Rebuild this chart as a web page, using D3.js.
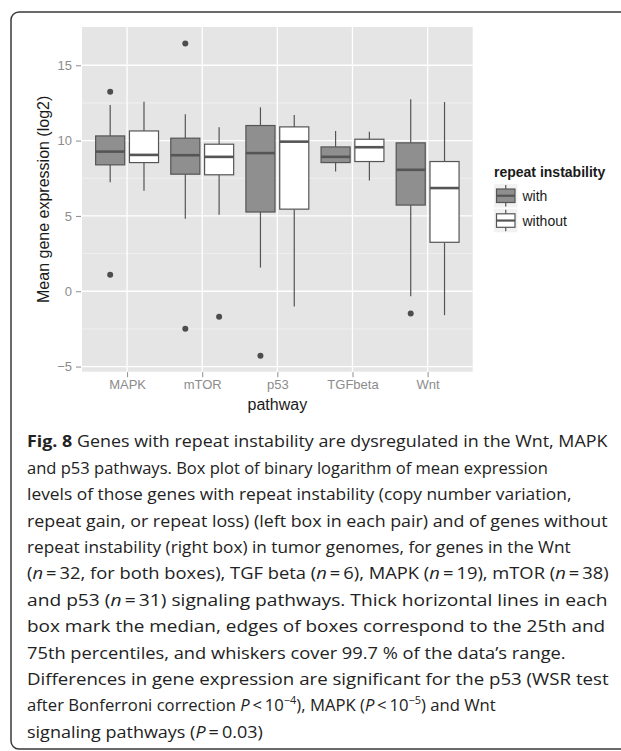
<!DOCTYPE html>
<html>
<head>
<meta charset="utf-8">
<script src="https://cdn.jsdelivr.net/npm/d3@7"></script>
<style>
  html, body { margin: 0; padding: 0; background: #ffffff; }
  svg { display: block; }
</style>
</head>
<body>
<svg id="chart" width="621" height="751"></svg>
<script>
// ---------- data ----------
const categories = ["MAPK", "mTOR", "p53", "TGFbeta", "Wnt"];
const groups = ["with", "without"];

// box statistics for genes WITH repeat instability
const withLower  = [7.24, 4.81, 1.57, 7.95, -0.33];
const withQ1     = [8.39, 7.77, 5.26, 8.54, 5.72];
const withMedian = [9.27, 9.03, 9.17, 8.92, 8.06];
const withQ3     = [10.31, 10.16, 11.00, 9.58, 9.85];
const withUpper  = [12.36, 11.75, 12.21, 10.64, 12.74];
const withOutliers = [[13.25, 1.10], [16.45, -2.49], [-4.28], [], [-1.48]];

// box statistics for genes WITHOUT repeat instability
const withoutLower  = [6.67, 5.08, -1.01, 7.35, -1.59];
const withoutQ1     = [8.54, 7.73, 5.45, 8.61, 3.25];
const withoutMedian = [9.05, 8.92, 9.93, 9.56, 6.85];
const withoutQ3     = [10.64, 9.76, 10.91, 10.09, 8.61];
const withoutUpper  = [12.58, 10.89, 11.70, 10.58, 12.56];
const withoutOutliers = [[], [-1.70], [], [], []];

const yMajorTicks = [-5, 0, 5, 10, 15];
const yMinorTicks = [-2.5, 2.5, 7.5, 12.5];
const yDomain = [-5.34, 17.54];

const captionLines = [
  [["b", "Fig. 8"], ["", " Genes with repeat instability are dysregulated in the Wnt, MAPK"]],
  [["", "and p53 pathways. Box plot of binary logarithm of mean expression"]],
  [["", "levels of those genes with repeat instability (copy number variation,"]],
  [["", "repeat gain, or repeat loss) (left box in each pair) and of genes without"]],
  [["", "repeat instability (right box) in tumor genomes, for genes in the Wnt"]],
  [["", "("], ["i", "n"], ["", "\u2009=\u200932, for both boxes), TGF beta ("], ["i", "n"], ["", "\u2009=\u20096), MAPK ("], ["i", "n"], ["", "\u2009=\u200919), mTOR ("], ["i", "n"], ["", "\u2009=\u200938)"]],
  [["", "and p53 ("], ["i", "n"], ["", "\u2009=\u200931) signaling pathways. Thick horizontal lines in each"]],
  [["", "box mark the median, edges of boxes correspond to the 25th and"]],
  [["", "75th percentiles, and whiskers cover 99.7 % of the data\u2019s range."]],
  [["", "Differences in gene expression are significant for the p53 (WSR test"]],
  [["", "after Bonferroni correction "], ["i", "P"], ["", "\u2009<\u200910"], ["sup", "\u22124"], ["", "), MAPK ("], ["i", "P"], ["", "\u2009<\u200910"], ["sup", "\u22125"], ["", ") and Wnt"]],
  [["", "signaling pathways ("], ["i", "P"], ["", "\u2009=\u20090.03)"]]
];
// right end of each caption line in the reference
const captionLineEnds = [608, 548, 572, 608, 571, 609, 608, 606, 566, 609, 496, 263];

// ---------- layout ----------
const svg = d3.select("#chart");
const panel = { left: 82, top: 27, right: 472.7, bottom: 371.7 };
const chartFont = "'Liberation Sans', Arial, sans-serif";

const groupFill = { with: "#8f8f8f", without: "#ffffff" };
const strokeCol = "#555555";

// outer frame
svg.append("rect")
  .attr("x", 11).attr("y", 12)
  .attr("width", 700).attr("height", 737)
  .attr("rx", 8).attr("ry", 8)
  .attr("fill", "none").attr("stroke", "#3a3a3a").attr("stroke-width", 1.5);

// scales (ggplot-like discrete expansion: 0.6 of a step on each side)
const step = (panel.right - panel.left) / (categories.length + 0.2);
const x = d3.scalePoint()
  .domain(categories)
  .range([panel.left + 0.6 * step, panel.right - 0.6 * step]);
const xGroup = d3.scaleBand().domain(groups).range([-0.45 * step, 0.45 * step]);
const boxW = 0.387 * step;

const y = d3.scaleLinear().domain(yDomain).range([panel.bottom, panel.top]);

// panel background
svg.append("rect")
  .attr("x", panel.left).attr("y", panel.top)
  .attr("width", panel.right - panel.left).attr("height", panel.bottom - panel.top)
  .attr("fill", "#e5e5e5");

// minor grid
svg.append("g").selectAll("line").data(yMinorTicks).join("line")
  .attr("x1", panel.left).attr("x2", panel.right)
  .attr("y1", d => y(d)).attr("y2", d => y(d))
  .attr("stroke", "#f2f2f2").attr("stroke-width", 0.8);

// major grid
svg.append("g").selectAll("line").data(yMajorTicks).join("line")
  .attr("x1", panel.left).attr("x2", panel.right)
  .attr("y1", d => y(d)).attr("y2", d => y(d))
  .attr("stroke", "#ffffff").attr("stroke-width", 1.3);
svg.append("g").selectAll("line").data(categories).join("line")
  .attr("x1", d => x(d)).attr("x2", d => x(d))
  .attr("y1", panel.top).attr("y2", panel.bottom)
  .attr("stroke", "#ffffff").attr("stroke-width", 1.3);

// axes
const yAxis = d3.axisLeft(y).tickValues(yMajorTicks).tickSize(5).tickPadding(4)
  .tickFormat(d => d < 0 ? "\u2212" + Math.abs(d) : d);
const gy = svg.append("g").attr("transform", `translate(${panel.left - 1},0)`).call(yAxis);
gy.select(".domain").remove();
gy.selectAll(".tick line").attr("stroke", "#8c8c8c").attr("stroke-width", 1);
gy.selectAll(".tick text").attr("fill", "#8c8c8c").attr("font-family", chartFont).attr("font-size", 13);

const xAxis = d3.axisBottom(x).tickSize(5).tickPadding(3);
const gx = svg.append("g").attr("transform", `translate(0,${panel.bottom + 0.5})`).call(xAxis);
gx.select(".domain").remove();
gx.selectAll(".tick line").attr("stroke", "#8c8c8c").attr("stroke-width", 1);
gx.selectAll(".tick text").attr("fill", "#8c8c8c").attr("font-family", chartFont).attr("font-size", 13);

// axis titles
svg.append("text")
  .attr("x", (panel.left + panel.right) / 2).attr("y", 410)
  .attr("text-anchor", "middle")
  .attr("font-family", chartFont).attr("font-size", 16).attr("fill", "#1a1a1a")
  .text("pathway");
svg.append("text")
  .attr("transform", `translate(49,${(panel.top + panel.bottom) / 2}) rotate(-90)`)
  .attr("text-anchor", "middle")
  .attr("font-family", chartFont).attr("font-size", 16).attr("fill", "#1a1a1a")
  .text("Mean gene expression (log2)");

// boxes
const stats = {
  with: { lower: withLower, q1: withQ1, median: withMedian, q3: withQ3, upper: withUpper, out: withOutliers },
  without: { lower: withoutLower, q1: withoutQ1, median: withoutMedian, q3: withoutQ3, upper: withoutUpper, out: withoutOutliers }
};
const boxes = [];
groups.forEach(g => categories.forEach((c, i) => {
  boxes.push({
    cat: c, group: g,
    lower: stats[g].lower[i], q1: stats[g].q1[i], median: stats[g].median[i],
    q3: stats[g].q3[i], upper: stats[g].upper[i], out: stats[g].out[i]
  });
}));
const cx = d => x(d.cat) + xGroup(d.group) + xGroup.bandwidth() / 2;

const bg = svg.append("g").selectAll("g").data(boxes).join("g");
bg.append("line")
  .attr("x1", cx).attr("x2", cx)
  .attr("y1", d => y(d.upper)).attr("y2", d => y(d.q3))
  .attr("stroke", strokeCol).attr("stroke-width", 1.2);
bg.append("line")
  .attr("x1", cx).attr("x2", cx)
  .attr("y1", d => y(d.q1)).attr("y2", d => y(d.lower))
  .attr("stroke", strokeCol).attr("stroke-width", 1.2);
bg.append("rect")
  .attr("x", d => cx(d) - boxW / 2).attr("width", boxW)
  .attr("y", d => y(d.q3)).attr("height", d => y(d.q1) - y(d.q3))
  .attr("fill", d => groupFill[d.group])
  .attr("stroke", strokeCol).attr("stroke-width", 1.2);
bg.append("line")
  .attr("x1", d => cx(d) - boxW / 2).attr("x2", d => cx(d) + boxW / 2)
  .attr("y1", d => y(d.median)).attr("y2", d => y(d.median))
  .attr("stroke", strokeCol).attr("stroke-width", 2.6);
bg.selectAll("circle").data(d => d.out.map(v => ({ v, d }))).join("circle")
  .attr("cx", o => cx(o.d)).attr("cy", o => y(o.v)).attr("r", 3)
  .attr("fill", "#4d4d4d");

// legend
const lg = svg.append("g");
lg.append("text")
  .attr("x", 494).attr("y", 177)
  .attr("font-family", chartFont).attr("font-size", 14).attr("font-weight", "bold").attr("fill", "#1a1a1a")
  .text("repeat instability");
const keyH = 23.5, keyW = 23.5;
const keys = lg.selectAll("g.key").data(groups).join("g").attr("class", "key")
  .attr("transform", (d, i) => `translate(494,${184 + i * 24.8})`);
keys.append("rect").attr("width", keyW).attr("height", keyH).attr("fill", "#f2f2f2");
keys.append("line")
  .attr("x1", keyW / 2).attr("x2", keyW / 2).attr("y1", 1).attr("y2", keyH - 1)
  .attr("stroke", strokeCol).attr("stroke-width", 1.2);
keys.append("rect")
  .attr("x", 2.5).attr("y", 5).attr("width", keyW - 5).attr("height", keyH - 10)
  .attr("fill", d => groupFill[d]).attr("stroke", strokeCol).attr("stroke-width", 1.2);
keys.append("line")
  .attr("x1", 2.5).attr("x2", keyW - 2.5).attr("y1", keyH / 2).attr("y2", keyH / 2)
  .attr("stroke", strokeCol).attr("stroke-width", 2.2);
keys.append("text")
  .attr("x", keyW + 5).attr("y", keyH / 2).attr("dy", "0.36em")
  .attr("font-family", chartFont).attr("font-size", 14).attr("fill", "#1a1a1a")
  .text(d => d);

// caption: each line is scaled horizontally so it ends where the reference line ends
const capX = 27;
const cap = svg.append("g");
captionLines.forEach((segs, i) => {
  const yBase = 447.3 + i * 26.4;
  const t = cap.append("text")
    .attr("x", 0).attr("y", 0)
    .attr("font-family", "'Open Sans', 'Noto Sans', sans-serif")
    .attr("font-size", 16).attr("fill", "#222222");
  segs.forEach(([kind, str]) => {
    const ts = t.append("tspan").text(str);
    if (kind === "b") ts.attr("font-weight", "bold");
    if (kind === "i") ts.attr("font-style", "italic");
    if (kind === "sup") ts.attr("font-size", 10.5).attr("baseline-shift", "super");
  });
  const w = t.node().getComputedTextLength();
  const sx = (captionLineEnds[i] - capX) / w;
  t.attr("transform", `translate(${capX},${yBase}) scale(${sx.toFixed(4)},1)`);
});
</script>
</body>
</html>
